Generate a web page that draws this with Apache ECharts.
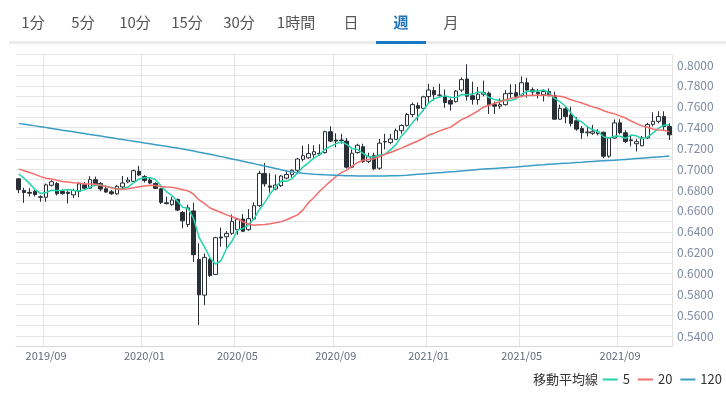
<!DOCTYPE html>
<html>
<head>
<meta charset="utf-8">
<script src="https://cdn.jsdelivr.net/npm/echarts@6/dist/echarts.min.js"></script>
<style>
html, body { margin: 0; padding: 0; background: #fff; }
#wrap { position: relative; width: 726px; height: 397px; overflow: hidden; font-family: "Noto Sans CJK JP", "Noto Sans", sans-serif; }
#container { position: absolute; left: 0; top: 0; width: 726px; height: 397px; }
.tab { position: absolute; top: 11px; font-size: 15px; line-height: 22px; color: #555; transform: translateX(-50%); white-space: nowrap; z-index: 2; }
.tab.on { color: #1b74bb; font-weight: bold; }
#bar { position: absolute; left: 9px; top: 41px; width: 717px; height: 3px; background: #ebebeb; z-index: 2; }
#under { position: absolute; left: 376px; top: 41px; width: 50px; height: 3px; background: #1a78c2; z-index: 3; }
</style>
</head>
<body>
<div id="wrap">
  <div id="container"></div>
  <span class="tab" style="left:33px">1分</span>
  <span class="tab" style="left:83px">5分</span>
  <span class="tab" style="left:135px">10分</span>
  <span class="tab" style="left:187px">15分</span>
  <span class="tab" style="left:239px">30分</span>
  <span class="tab" style="left:296px">1時間</span>
  <span class="tab" style="left:351px">日</span>
  <span class="tab on" style="left:401px">週</span>
  <span class="tab" style="left:451px">月</span>
  <div id="bar"></div>
  <div id="under"></div>
</div>
<script>
var dom = document.getElementById("container");
var myChart = echarts.init(dom);
var option = null;

// weekly bars (week starting date)
var dates = [
  '2019/07/29','2019/08/05','2019/08/12','2019/08/19','2019/08/26','2019/09/02','2019/09/09','2019/09/16','2019/09/23','2019/09/30',
  '2019/10/07','2019/10/14','2019/10/21','2019/10/28','2019/11/04','2019/11/11','2019/11/18','2019/11/25','2019/12/02','2019/12/09',
  '2019/12/16','2019/12/23','2019/12/30','2020/01/06','2020/01/13','2020/01/20','2020/01/27','2020/02/03','2020/02/10','2020/02/17',
  '2020/02/24','2020/03/02','2020/03/09','2020/03/16','2020/03/23','2020/03/30','2020/04/06','2020/04/13','2020/04/20','2020/04/27',
  '2020/05/04','2020/05/11','2020/05/18','2020/05/25','2020/06/01','2020/06/08','2020/06/15','2020/06/22','2020/06/29','2020/07/06',
  '2020/07/13','2020/07/20','2020/07/27','2020/08/03','2020/08/10','2020/08/17','2020/08/24','2020/08/31','2020/09/07','2020/09/14',
  '2020/09/21','2020/09/28','2020/10/05','2020/10/12','2020/10/19','2020/10/26','2020/11/02','2020/11/09','2020/11/16','2020/11/23',
  '2020/11/30','2020/12/07','2020/12/14','2020/12/21','2020/12/28','2021/01/04','2021/01/11','2021/01/18','2021/01/25','2021/02/01',
  '2021/02/08','2021/02/15','2021/02/22','2021/03/01','2021/03/08','2021/03/15','2021/03/22','2021/03/29','2021/04/05','2021/04/12',
  '2021/04/19','2021/04/26','2021/05/03','2021/05/10','2021/05/17','2021/05/24','2021/05/31','2021/06/07','2021/06/14','2021/06/21',
  '2021/06/28','2021/07/05','2021/07/12','2021/07/19','2021/07/26','2021/08/02','2021/08/09','2021/08/16','2021/08/23','2021/08/30',
  '2021/09/06','2021/09/13','2021/09/20','2021/09/27','2021/10/04','2021/10/11','2021/10/18','2021/10/25','2021/11/01','2021/11/08'
];

var opens = [
  0.6908,0.6797,0.6778,0.6786,0.6735,0.6731,0.6846,0.6862,0.6786,0.6778,
  0.6754,0.6786,0.6850,0.6818,0.6900,0.6862,0.6812,0.6783,0.6764,0.6830,
  0.6878,0.6884,0.6980,0.6930,0.6896,0.6864,0.6812,0.6678,0.6660,0.6710,
  0.6585,0.6470,0.6600,0.6135,0.5792,0.6135,0.5991,0.6350,0.6352,0.6385,
  0.6420,0.6522,0.6420,0.6522,0.6650,0.6960,0.6840,0.6810,0.6842,0.6915,
  0.6948,0.6990,0.7095,0.7110,0.7140,0.7152,0.7160,0.7360,0.7280,0.7280,
  0.7270,0.7020,0.7160,0.7216,0.7075,0.7130,0.7010,0.7262,0.7256,0.7287,
  0.7370,0.7420,0.7525,0.7610,0.7585,0.7697,0.7755,0.7710,0.7700,0.7660,
  0.7648,0.7760,0.7866,0.7705,0.7668,0.7720,0.7730,0.7620,0.7605,0.7620,
  0.7730,0.7735,0.7705,0.7830,0.7762,0.7738,0.7715,0.7745,0.7705,0.7480,
  0.7580,0.7520,0.7465,0.7390,0.7350,0.7345,0.7342,0.7355,0.7125,0.7300,
  0.7445,0.7350,0.7275,0.7245,0.7225,0.7300,0.7430,0.7460,0.7505,0.7410
];

var highs = [
  0.6914,0.6823,0.6818,0.6800,0.6750,0.6863,0.6893,0.6877,0.6805,0.6794,
  0.6812,0.6876,0.6876,0.6933,0.6929,0.6876,0.6844,0.6800,0.6850,0.6935,
  0.6924,0.6997,0.7032,0.6944,0.6920,0.6874,0.6822,0.6736,0.6736,0.6720,
  0.6600,0.6660,0.6680,0.6290,0.6192,0.6151,0.6352,0.6440,0.6407,0.6565,
  0.6530,0.6570,0.6617,0.6683,0.6985,0.7060,0.6962,0.6950,0.6944,0.6990,
  0.7000,0.7110,0.7227,0.7240,0.7230,0.7240,0.7370,0.7413,0.7345,0.7340,
  0.7300,0.7190,0.7245,0.7245,0.7158,0.7158,0.7290,0.7340,0.7340,0.7390,
  0.7430,0.7540,0.7640,0.7640,0.7705,0.7820,0.7790,0.7820,0.7765,0.7680,
  0.7760,0.7880,0.8007,0.7840,0.7790,0.7850,0.7745,0.7650,0.7680,0.7760,
  0.7815,0.7817,0.7891,0.7878,0.7785,0.7770,0.7770,0.7775,0.7745,0.7620,
  0.7600,0.7600,0.7500,0.7415,0.7415,0.7425,0.7385,0.7360,0.7310,0.7478,
  0.7480,0.7375,0.7320,0.7290,0.7320,0.7445,0.7546,0.7556,0.7556,0.7440
];

var lows = [
  0.6770,0.6677,0.6740,0.6738,0.6688,0.6688,0.6834,0.6748,0.6755,0.6671,
  0.6722,0.6731,0.6805,0.6812,0.6846,0.6789,0.6774,0.6754,0.6755,0.6808,
  0.6866,0.6876,0.6933,0.6872,0.6858,0.6810,0.6666,0.6662,0.6650,0.6599,
  0.6433,0.6444,0.6110,0.5506,0.5696,0.5968,0.5984,0.6256,0.6247,0.6370,
  0.6370,0.6400,0.6410,0.6515,0.6640,0.6832,0.6776,0.6800,0.6830,0.6905,
  0.6920,0.6967,0.7076,0.7100,0.7110,0.7130,0.7150,0.7260,0.7210,0.7245,
  0.7006,0.7010,0.7150,0.7060,0.7060,0.6991,0.6995,0.7190,0.7240,0.7280,
  0.7340,0.7410,0.7500,0.7465,0.7560,0.7640,0.7660,0.7690,0.7590,0.7563,
  0.7640,0.7740,0.7660,0.7620,0.7620,0.7700,0.7530,0.7530,0.7580,0.7610,
  0.7680,0.7690,0.7690,0.7686,0.7700,0.7680,0.7650,0.7700,0.7477,0.7475,
  0.7440,0.7410,0.7370,0.7290,0.7315,0.7330,0.7325,0.7106,0.7110,0.7290,
  0.7335,0.7250,0.7220,0.7170,0.7220,0.7290,0.7410,0.7440,0.7370,0.7280
];

var closes = [
  0.6805,0.6777,0.6770,0.6757,0.6731,0.6850,0.6880,0.6765,0.6766,0.6768,
  0.6796,0.6860,0.6818,0.6900,0.6862,0.6810,0.6781,0.6765,0.6837,0.6868,
  0.6896,0.6986,0.6945,0.6893,0.6868,0.6816,0.6682,0.6670,0.6704,0.6608,
  0.6505,0.6630,0.6180,0.5795,0.6154,0.5980,0.6343,0.6340,0.6384,0.6500,
  0.6520,0.6405,0.6525,0.6650,0.6960,0.6860,0.6828,0.6848,0.6935,0.6950,
  0.6990,0.7098,0.7130,0.7150,0.7168,0.7146,0.7360,0.7270,0.7270,0.7275,
  0.7020,0.7153,0.7230,0.7075,0.7120,0.7005,0.7250,0.7266,0.7290,0.7370,
  0.7420,0.7525,0.7620,0.7585,0.7695,0.7760,0.7715,0.7712,0.7640,0.7625,
  0.7750,0.7860,0.7700,0.7670,0.7720,0.7735,0.7620,0.7605,0.7620,0.7725,
  0.7725,0.7700,0.7830,0.7760,0.7742,0.7725,0.7745,0.7705,0.7480,0.7585,
  0.7505,0.7440,0.7385,0.7350,0.7358,0.7360,0.7358,0.7125,0.7300,0.7445,
  0.7350,0.7265,0.7282,0.7265,0.7300,0.7430,0.7460,0.7505,0.7410,0.7330
];

// closes of the 19 weeks before the visible window (feed the 5/20 averages)
var priorCloses = [
  0.7095,0.7100,0.7115,0.7170,0.7145,0.7045,0.7005,0.6995,0.6870,0.6920,
  0.6945,0.6995,0.6870,0.6950,0.7020,0.6990,0.7025,0.7045,0.6915
];

// 120-week average
var ma120 = [
  0.7440,0.7432,0.7424,0.7416,0.7408,0.7400,0.7392,0.7384,0.7375,0.7367,
  0.7359,0.7351,0.7343,0.7334,0.7326,0.7318,0.7310,0.7302,0.7293,0.7285,
  0.7277,0.7269,0.7261,0.7252,0.7244,0.7236,0.7228,0.7220,0.7211,0.7203,
  0.7195,0.7185,0.7175,0.7164,0.7154,0.7143,0.7132,0.7121,0.7110,0.7099,
  0.7088,0.7077,0.7065,0.7054,0.7042,0.7031,0.7019,0.7007,0.6996,0.6984,
  0.6973,0.6967,0.6961,0.6956,0.6952,0.6949,0.6946,0.6944,0.6942,0.6940,
  0.6938,0.6937,0.6936,0.6935,0.6935,0.6935,0.6935,0.6936,0.6937,0.6938,
  0.6940,0.6943,0.6947,0.6951,0.6955,0.6959,0.6963,0.6967,0.6971,0.6975,
  0.6978,0.6983,0.6988,0.6993,0.6998,0.7002,0.7005,0.7008,0.7011,0.7015,
  0.7018,0.7022,0.7027,0.7031,0.7036,0.7040,0.7043,0.7047,0.7051,0.7054,
  0.7058,0.7061,0.7065,0.7068,0.7072,0.7075,0.7078,0.7081,0.7084,0.7087,
  0.7090,0.7094,0.7098,0.7102,0.7106,0.7110,0.7114,0.7118,0.7122,0.7127
];

var maNames = ['5', '20', '120'];
var maColors = ['#22d4ac', '#f36d6d', '#3a9dc6'];

function calcMA(n) {
  var all = priorCloses.concat(closes);
  var off = priorCloses.length;
  var out = [];
  for (var i = 0; i < closes.length; i++) {
    var s = 0;
    for (var k = 0; k < n; k++) s += all[off + i - k];
    out.push(+(s / n).toFixed(4));
  }
  return out;
}

var candles = dates.map(function (d, i) {
  return [opens[i], closes[i], lows[i], highs[i]];
});

// label / gridline on the first week of Jan, May, Sep
function isMark(idx) {
  if (idx === 0) return false;
  var m = dates[idx].slice(5, 7);
  var pm = dates[idx - 1].slice(5, 7);
  return m !== pm && (m === '01' || m === '05' || m === '09');
}

var maData = [calcMA(5), calcMA(20), ma120];

option = {
  animation: false,
  grid: { left: 16, right: 54, top: 54.6, bottom: 50.6 },
  legend: {
    right: 4, top: 373, padding: 0,
    icon: 'rect', itemWidth: 15, itemHeight: 2, itemGap: 8,
    textStyle: { fontSize: 13, color: '#333', fontFamily: 'Noto Sans CJK JP' },
    data: maNames
  },
  graphic: [{
    type: 'text', left: 533, top: 373,
    style: { text: '移動平均線', fontSize: 13, fill: '#333', fontFamily: 'Noto Sans CJK JP' }
  }],
  xAxis: {
    type: 'category',
    data: dates,
    boundaryGap: true,
    axisLine: { lineStyle: { color: '#d3d7df' } },
    axisTick: { show: false },
    axisLabel: {
      interval: function (i) { return isMark(i); },
      formatter: function (v) { return v.slice(0, 7); },
      color: '#626a79', fontSize: 11, margin: 4,
      fontFamily: 'Noto Sans CJK JP'
    },
    splitLine: {
      show: true,
      interval: function (i) { return isMark(i); },
      lineStyle: { color: '#e3e3e3' }
    }
  },
  yAxis: {
    type: 'value',
    position: 'right',
    min: 0.53, max: 0.81, interval: 0.01,
    axisLine: { show: false },
    axisTick: { show: false },
    axisLabel: {
      formatter: function (v) {
        var h = Math.round(v * 100);
        return h % 2 === 0 ? v.toFixed(4) : '';
      },
      color: '#7f89a2', fontSize: 12, margin: 5,
      fontFamily: 'Noto Sans CJK JP'
    },
    splitLine: { lineStyle: { color: '#e6e6e6' } }
  },
  series: [{
    name: '週足',
    type: 'candlestick',
    data: candles,
    barWidth: 4,
    itemStyle: {
      color: '#ffffff', color0: '#2a2f36',
      borderColor: '#2a2f36', borderColor0: '#2a2f36', borderWidth: 1
    }
  }].concat(maNames.map(function (n, k) {
    return {
      name: n,
      type: 'line',
      data: maData[k],
      symbol: 'none',
      color: maColors[k],
      lineStyle: { width: 1.5, color: maColors[k] }
    };
  }))
};

if (option && typeof option === "object") {
  myChart.setOption(option, false);
}
</script>
</body>
</html>
